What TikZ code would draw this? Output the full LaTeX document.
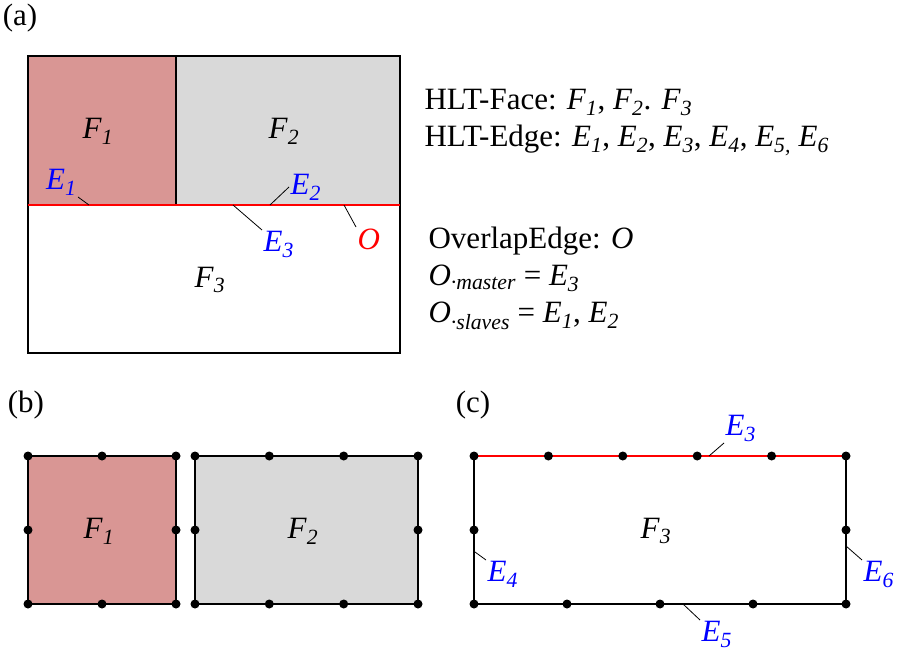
\documentclass[tikz,border=0pt]{standalone}
\usepackage{fontspec}
\setmainfont{Liberation Serif}
\definecolor{faceone}{HTML}{D99694}
\definecolor{facetwo}{HTML}{D9D9D9}
\newcommand{\ix}[2]{\textit{#1}\textsubscript{\textit{#2}}}

\begin{document}
\begin{tikzpicture}[x=1pt, y=-1pt, line width=1.2pt,
  every node/.style={font=\fontsize{31}{37}\selectfont, inner sep=1pt},
  elab/.style={text=blue},
  lead/.style={line width=0.8pt},
  olap/.style={red, line width=2pt},
  vtx/.style={circle, fill=black, inner sep=0pt, minimum size=9pt}]
  \useasboundingbox (0,0) rectangle (897,652);

  % (a) 전체 면
  \node (pa) at (20,18) {(a)};
  \fill[faceone] (28,56) rectangle (176,205);
  \fill[facetwo] (176,56) rectangle (400,205);
  \draw (28,56) rectangle (400,353);
  \draw (176,56) -- (176,205);
  \draw[olap] (28,205) -- (400,205);
  \node (aF1) at (98,131) {\ix{F}{1}};
  \node (aF2) at (284,131) {\ix{F}{2}};
  \node (aF3) at (210,280) {\ix{F}{3}};
  % 지시선
  \coordinate (ae1) at (89,205);
  \coordinate (ae2) at (270,205);
  \coordinate (ae3) at (233,205);
  \coordinate (ao) at (344,205);
  \node[elab, anchor=south east] (aE1) at (78,197) {\ix{E}{1}};
  \node[elab, anchor=west] (aE2) at (289,187) {\ix{E}{2}};
  \node[elab, anchor=north west] (aE3) at (262,230) {\ix{E}{3}};
  \node[text=red, anchor=north west] (aO) at (356,227) {\textit{O}};
  \draw[lead] (ae1) -- (aE1.south east);
  \draw[lead] (ae2) -- (aE2.west);
  \draw[lead] (ae3) -- (aE3.north west);
  \draw[lead] (ao) -- (aO.north west);

  % 설명
  \node[anchor=base west] (hface) at (423,110) {HLT-Face: \ix{F}{1}, \ix{F}{2}. \ix{F}{3}};
  \node[anchor=base west] (hedge) at (423,147) {HLT-Edge: \ix{E}{1}, \ix{E}{2}, \ix{E}{3}, \ix{E}{4}, \ix{E}{5,} \ix{E}{6}};
  \node[anchor=base west] (oedge) at (427,249) {OverlapEdge: \textit{O}};
  \node[anchor=base west] (omast) at (427,286) {\ix{O}{·master} = \ix{E}{3}};
  \node[anchor=base west] (oslav) at (427,323) {\ix{O}{·slaves} = \ix{E}{1}, \ix{E}{2}};

  % (b) 분리된 면
  \node (pb) at (26,405) {(b)};
  \filldraw[fill=faceone] (28,456) rectangle (176,604);
  \filldraw[fill=facetwo] (195,456) rectangle (418,604);
  \node (bF1) at (99,531) {\ix{F}{1}};
  \node (bF2) at (303,531) {\ix{F}{2}};
  \foreach \x [count=\i] in {28,102,176} {
    \node[vtx] (bt\i) at (\x,456) {};
    \node[vtx] (bb\i) at (\x,604) {};
  }
  \foreach \x [count=\i] in {195,269.3,343.7,418} {
    \node[vtx] (ct\i) at (\x,456) {};
    \node[vtx] (cb\i) at (\x,604) {};
  }
  \foreach \x [count=\i] in {28,176,195,418}
    \node[vtx] (bm\i) at (\x,530) {};

  % (c) 아래 면
  \node (pc) at (473,405) {(c)};
  \draw (474,456) -- (474,604) -- (846,604) -- (846,456);
  \draw[olap] (474,456) -- (846,456);
  \node (cF3) at (656,531) {\ix{F}{3}};
  \foreach \k in {0,...,5}
    \node[vtx] (dt\k) at (474+\k*74.4,456) {};
  \foreach \k in {0,...,4}
    \node[vtx] (db\k) at (474+\k*93,604) {};
  \node[vtx] (dl) at (474,530) {};
  \node[vtx] (dr) at (846,530) {};
  \coordinate (ce3) at (709,456);
  \coordinate (ce4) at (475,552);
  \coordinate (ce5) at (683,604);
  \coordinate (ce6) at (846,546);
  \node[elab, anchor=south west] (cE3) at (724,443) {\ix{E}{3}};
  \node[elab, anchor=north west] (cE4) at (486,560) {\ix{E}{4}};
  \node[elab, anchor=north west] (cE5) at (700,620) {\ix{E}{5}};
  \node[elab, anchor=north west] (cE6) at (862,560) {\ix{E}{6}};
  \draw[lead] (ce3) -- (cE3.south west);
  \draw[lead] (ce4) -- (cE4.north west);
  \draw[lead] (ce5) -- (cE5.north west);
  \draw[lead] (ce6) -- (cE6.north west);
\end{tikzpicture}
\end{document}
